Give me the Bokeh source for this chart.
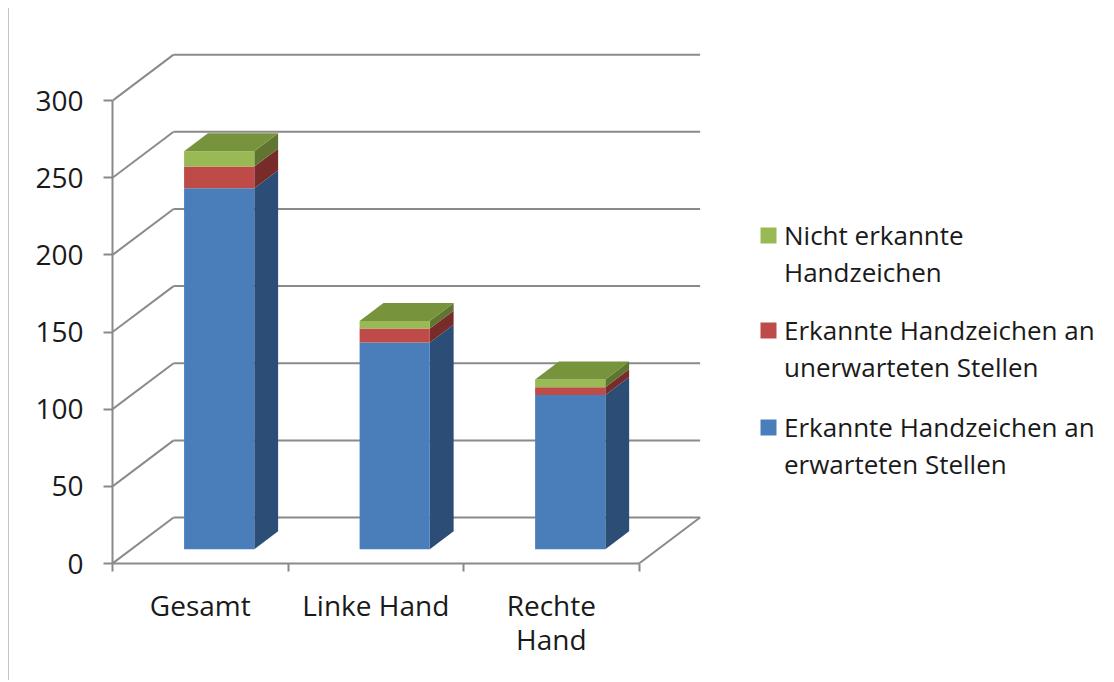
from bokeh.plotting import figure
from bokeh.models import Range1d, FixedTicker, Legend, LegendItem
from bokeh.embed import file_html
from bokeh.resources import INLINE

# ---- data ----
categories = ["Gesamt", "Linke Hand", "Rechte\nHand"]
series_lines = [["Erkannte Handzeichen an", "erwarteten Stellen"],
                ["Erkannte Handzeichen an", "unerwarteten Stellen"],
                ["Nicht erkannte", "Handzeichen"]]
erwartet = [234, 134, 100]
unerwartet = [14, 9, 5]
nicht_erkannt = [10, 5, 5]
y_ticks = [0, 50, 100, 150, 200, 250, 300]

# ---- styles / projection ----
front_cols = ["#4a7ebb", "#be4b48", "#98b954"]
side_cols = ["#2c4d75", "#772c2a", "#5f7530"]
top_col = "#77933c"
grid_col = "#8a8a8a"
txt_col = "#1a1a1a"
FONT = "Open Sans"
DX = 0.348      # depth shift in category units
DY = 29.8       # depth shift in value units
F1, F2 = 0.31, 0.70   # bar depth (front/back), fraction of depth
BW = 0.4        # bar width in category units

p = figure(width=1098, height=672, output_backend="svg", toolbar_location=None,
           x_range=Range1d(0, 5.669), y_range=Range1d(0, 333.8),
           min_border_left=103, min_border_right=0, min_border_top=40,
           min_border_bottom=117)
p.outline_line_color = None
p.xgrid.visible = False
p.ygrid.visible = False
p.background_fill_color = "white"
p.border_fill_color = "white"
p.styles = {"border-left": "1px solid #c4c4c4", "margin-left": "8px", "margin-top": "8px"}

n = len(categories)
# back wall gridlines + side wall diagonals
p.segment(x0=[DX] * len(y_ticks), y0=[v + DY for v in y_ticks],
          x1=[n + DX] * len(y_ticks), y1=[v + DY for v in y_ticks],
          line_color=grid_col, line_width=2)
p.segment(x0=[0] * len(y_ticks), y0=y_ticks,
          x1=[DX] * len(y_ticks), y1=[v + DY for v in y_ticks],
          line_color=grid_col, line_width=2)
# floor right edge
p.segment(x0=[n], y0=[0], x1=[n + DX], y1=[DY], line_color=grid_col, line_width=2)

series = [erwartet, unerwartet, nicht_erkannt]
bottoms = [0.0] * n
front_renderers = []
for s, vals in enumerate(series):
    lefts, rights, bots, tops = [], [], [], []
    sx, sy = [], []
    for i in range(n):
        b = bottoms[i]
        t = b + vals[i]
        xl = i + 0.5 - BW / 2
        xr = i + 0.5 + BW / 2
        lefts.append(xl + F1 * DX)
        rights.append(xr + F1 * DX)
        bots.append(b + F1 * DY)
        tops.append(t + F1 * DY)
        sx.append([xr + F1 * DX, xr + F2 * DX, xr + F2 * DX, xr + F1 * DX])
        sy.append([b + F1 * DY, b + F2 * DY, t + F2 * DY, t + F1 * DY])
        bottoms[i] = t
    p.patches(sx, sy, fill_color=side_cols[s], line_color=None)
    r = p.quad(left=lefts, right=rights, bottom=bots, top=tops,
               fill_color=front_cols[s], line_color=None)
    front_renderers.append(r)

# top faces
tx, ty = [], []
for i in range(n):
    T = bottoms[i]
    xl = i + 0.5 - BW / 2
    xr = i + 0.5 + BW / 2
    tx.append([xl + F1 * DX, xr + F1 * DX, xr + F2 * DX, xl + F2 * DX])
    ty.append([T + F1 * DY, T + F1 * DY, T + F2 * DY, T + F2 * DY])
p.patches(tx, ty, fill_color=top_col, line_color=None)

# y axis
ya = p.yaxis[0]
ya.ticker = FixedTicker(ticks=y_ticks)
ya.bounds = (0, 300)
ya.axis_line_color = grid_col
ya.axis_line_width = 2
ya.major_tick_line_color = grid_col
ya.major_tick_line_width = 2
ya.major_tick_out = 9
ya.major_tick_in = 0
ya.minor_tick_line_color = None
ya.major_label_text_font = FONT
ya.major_label_text_font_size = "28px"
ya.major_label_text_color = txt_col
ya.major_label_standoff = 20

# x axis
xa = p.xaxis[0]
centers = [i + 0.5 for i in range(n)]
xa.ticker = FixedTicker(ticks=centers, minor_ticks=list(range(n + 1)))
xa.major_label_overrides = {c: lab for c, lab in zip(centers, categories)}
xa.bounds = (0, n)
xa.axis_line_color = grid_col
xa.axis_line_width = 2
xa.major_tick_line_color = None
xa.minor_tick_line_color = grid_col
xa.minor_tick_line_width = 2
xa.minor_tick_out = 8
xa.minor_tick_in = 0
xa.major_label_text_font = FONT
xa.major_label_text_font_size = "28px"
xa.major_label_text_color = txt_col
xa.major_label_text_line_height = 0.92
xa.major_label_standoff = 14

# legend: one block per series (top: green, then red, then blue)
legend_y = [273, 178, 81]
for k, s in enumerate((2, 1, 0)):
    first, second = series_lines[s]
    items = [LegendItem(label=first, renderers=[front_renderers[s]]),
             LegendItem(label=second, renderers=[])]
    lg = Legend(items=items, location=(646, legend_y[k]), orientation="vertical",
                glyph_width=20, glyph_height=20, label_standoff=6, label_height=37,
                label_text_font=FONT, label_text_font_size="26px",
                label_text_color=txt_col, spacing=0, padding=0, margin=0,
                border_line_color=None, background_fill_alpha=0)
    p.add_layout(lg)

open("out.html", "w").write(file_html(p, INLINE))
